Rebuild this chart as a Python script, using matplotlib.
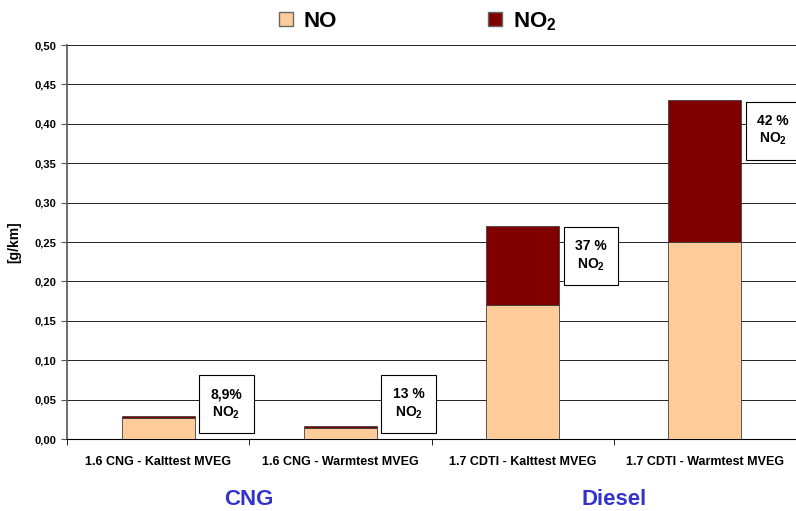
import matplotlib
matplotlib.use('Agg')

import matplotlib.pyplot as plt
from matplotlib.patches import Rectangle, Patch

plt.rcParams['font.family'] = ['Liberation Sans', 'DejaVu Sans']
plt.rcParams['font.weight'] = 'bold'
plt.rcParams['mathtext.fontset'] = 'custom'
plt.rcParams['mathtext.rm'] = 'Liberation Sans:bold'
plt.rcParams['mathtext.bf'] = 'Liberation Sans:bold'
plt.rcParams['mathtext.default'] = 'bf'

# Daten
categories = ['1.6 CNG - Kalttest MVEG', '1.6 CNG - Warmtest MVEG',
              '1.7 CDTI - Kalttest MVEG', '1.7 CDTI - Warmtest MVEG']
no_values = [0.0264, 0.014, 0.17, 0.25]
no2_values = [0.0026, 0.002, 0.10, 0.18]
share_labels = ['8,9%', '13 %', '37 %', '42 %']
box_tops = [0.081, 0.081, 0.269, 0.428]
groups = ['CNG', 'Diesel']
y_ticks = [i * 0.05 for i in range(11)]

COLOR_NO = '#FFCC99'
COLOR_NO2 = '#800000'
COLOR_GROUP = '#3333CC'

fig = plt.figure(figsize=(7.96, 5.11), dpi=100)
ax = fig.add_axes([67 / 796, 1 - 439 / 511, 1 - 67 / 796, (439 - 45) / 511])

x = list(range(len(categories)))
ax.bar(x, no_values, width=0.4, color=COLOR_NO, edgecolor='#404040', linewidth=0.6, zorder=3)
ax.bar(x, no2_values, width=0.4, bottom=no_values, color=COLOR_NO2,
       edgecolor='#404040', linewidth=0.6, zorder=3)

# Beschriftungsboxen
for i, (lab, top) in enumerate(zip(share_labels, box_tops)):
    h = 0.0736
    ax.add_patch(Rectangle((i + 0.225, top - h), 0.3, h, facecolor='white',
                           edgecolor='black', linewidth=0.8, zorder=4))
    ax.text(i + 0.375, top - h / 2, f'{lab}\nNO$_2$', ha='center', va='center',
            fontsize=10, fontweight='bold', zorder=5, linespacing=1.25)

ax.set_xlim(-0.5, 3.5)
ax.set_ylim(0, 0.5)
ax.set_yticks(y_ticks)
ax.set_yticklabels([f'{v:.2f}'.replace('.', ',') for v in y_ticks], fontsize=8, fontweight='bold')
ax.yaxis.grid(True, color='#222222', linewidth=0.7, zorder=0)
ax.set_axisbelow(True)

ax.set_xticks(x)
ax.set_xticklabels(categories, fontsize=9, fontweight='bold')
ax.tick_params(axis='x', length=0, pad=12)
ax.set_xticks([-0.5, 0.5, 1.5, 2.5, 3.5], minor=True)
ax.tick_params(axis='x', which='minor', length=4, color='black')
ax.tick_params(axis='y', length=4, color='#555555')

for s in ['top', 'right']:
    ax.spines[s].set_visible(False)
ax.spines['left'].set_color('#555555')
ax.spines['left'].set_linewidth(1.2)
ax.spines['bottom'].set_color('black')

ax.set_ylabel('[g/km]', fontsize=10, fontweight='bold', labelpad=10)

# Gruppen
for gx, g in zip([0.5, 2.5], groups):
    ax.text(gx, -0.077, g, ha='center', va='center', fontsize=16, fontweight='bold',
            color=COLOR_GROUP, transform=ax.transData, clip_on=False)

handles = [Patch(facecolor=COLOR_NO, edgecolor='#666666', label='NO'),
           Patch(facecolor=COLOR_NO2, edgecolor='#666666', label='NO$_2$')]
fig.legend(handles=handles, loc='center', bbox_to_anchor=(0.525, 0.958), ncol=2,
           frameon=False, handlelength=0.6, handleheight=0.6, handletextpad=0.5,
           columnspacing=6.8, prop={'size': 16, 'weight': 'bold'})

fig.savefig('out.png', dpi=100, facecolor='white')
